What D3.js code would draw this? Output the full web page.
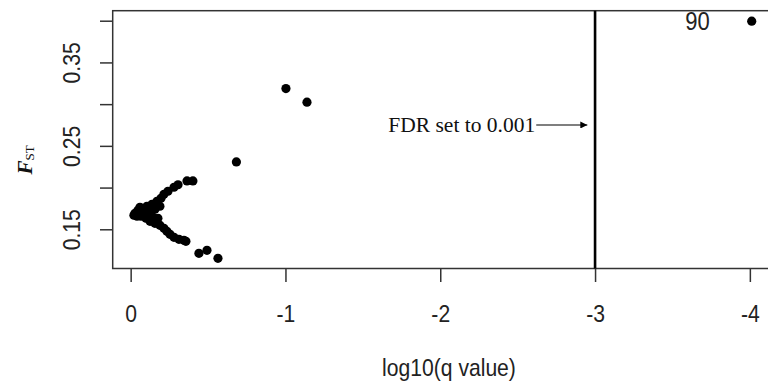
<!DOCTYPE html>
<html>
<head>
<meta charset="utf-8">
<script src="https://cdn.jsdelivr.net/npm/d3@7"></script>
<style>
  html, body { margin: 0; padding: 0; background: #fff; }
  svg { display: block; }
</style>
</head>
<body>
<div id="chart"></div>
<script>
// log10(q value) per locus
const logQ = [
  -0.402, -0.364, -0.306, -0.280, -0.241, -0.215, -0.196, -0.170, -0.138, -0.105,
  -0.073, -0.047, -0.028, -0.021, -0.041, -0.067, -0.099, -0.125, -0.157, -0.189,
  -0.215, -0.234, -0.254, -0.280, -0.312, -0.344, -0.357, -0.441, -0.493, -0.564,
  -0.683, -1.003, -1.139, -4.012,
  -0.060, -0.092, -0.125, -0.079, -0.138, -0.176, -0.157, -0.189
];
// Fst per locus
const fst = [
  0.208, 0.208, 0.2034, 0.2004, 0.1956, 0.1920, 0.1872, 0.1836, 0.1800, 0.1776,
  0.1752, 0.1728, 0.1692, 0.1668, 0.1656, 0.1656, 0.1632, 0.1596, 0.1572, 0.1548,
  0.1512, 0.1476, 0.1440, 0.1404, 0.1380, 0.1368, 0.1356, 0.1212, 0.1248, 0.1152,
  0.2307, 0.3187, 0.3023, 0.3994,
  0.1764, 0.1728, 0.1704, 0.1692, 0.1656, 0.1632, 0.1740, 0.1776
];
// locus labels (only the outlier is named)
const locusLabels = ["90"];
const labelledIndex = [33];

const xTicks = [0, -1, -2, -3, -4];
const xTickLabels = ["0", "-1", "-2", "-3", "-4"];
const yTicks = [0.15, 0.20, 0.25, 0.30, 0.35, 0.40];
const yTickLabels = ["0.15", "", "0.25", "", "0.35", ""];

const fdrCut = -3;
const fdrText = "FDR set to 0.001";
const arrowFrom = [-2.62, 0.275];
const arrowTo = [-2.95, 0.275];

const width = 768, height = 381;
const mLeft = 112.7, mTop = 10.7, mBottom = 268.5;

const x = d3.scaleLinear().domain([0.116, -4.15]).range([mLeft, mLeft + 4.266 * 154.8]);
const y = d3.scaleLinear().domain([0.103, 0.412]).range([mBottom, mTop]);

const svg = d3.select("#chart").append("svg")
  .attr("width", width)
  .attr("height", height);

const ink = "#333";
const font = "'Liberation Sans', Arial, sans-serif";
const squeeze = "scale(0.88,1)";   // the original text is narrow and tall

// plot box
svg.append("rect")
  .attr("x", x.range()[0])
  .attr("y", mTop)
  .attr("width", x.range()[1] - x.range()[0])
  .attr("height", mBottom - mTop)
  .attr("fill", "none")
  .attr("stroke", ink)
  .attr("stroke-width", 1.5);

// x axis
const xAxis = svg.append("g")
  .attr("transform", `translate(0,${mBottom})`)
  .call(d3.axisBottom(x).tickValues(xTicks)
    .tickFormat((d, i) => xTickLabels[i])
    .tickSize(13.5).tickSizeOuter(0).tickPadding(23));
xAxis.select(".domain").remove();
xAxis.selectAll("line").attr("stroke", ink).attr("stroke-width", 1.5);
xAxis.selectAll("text")
  .attr("transform", squeeze)
  .attr("font-family", font).attr("font-size", 24).attr("fill", "#222");

// y axis
const yAxis = svg.append("g")
  .attr("transform", `translate(${mLeft},0)`)
  .call(d3.axisLeft(y).tickValues(yTicks)
    .tickFormat((d, i) => yTickLabels[i])
    .tickSize(12.7).tickSizeOuter(0));
yAxis.select(".domain").remove();
yAxis.selectAll("line").attr("stroke", ink).attr("stroke-width", 1.5);
yAxis.selectAll("text")
  .attr("x", null).attr("dy", null)
  .attr("transform", "translate(-32.7,0) rotate(-90) " + squeeze)
  .attr("text-anchor", "middle")
  .attr("font-family", font).attr("font-size", 24).attr("fill", "#222");

// FDR threshold line
svg.append("line")
  .attr("x1", x(fdrCut)).attr("x2", x(fdrCut))
  .attr("y1", mTop).attr("y2", mBottom)
  .attr("stroke", "#000")
  .attr("stroke-width", 2.6);

// annotation
svg.append("defs").append("marker")
  .attr("id", "head")
  .attr("viewBox", "0 0 10 10")
  .attr("refX", 10).attr("refY", 5)
  .attr("markerWidth", 9).attr("markerHeight", 7)
  .attr("markerUnits", "userSpaceOnUse")
  .attr("orient", "auto")
  .append("path")
  .attr("d", "M0,0L10,5L0,10z")
  .attr("fill", "#000");

svg.append("line")
  .attr("x1", x(arrowFrom[0])).attr("y1", y(arrowFrom[1]))
  .attr("x2", x(arrowTo[0])).attr("y2", y(arrowTo[1]))
  .attr("stroke", "#000")
  .attr("stroke-width", 1.2)
  .attr("marker-end", "url(#head)");

svg.append("text")
  .attr("x", x(arrowFrom[0]) - 1)
  .attr("y", y(arrowFrom[1]) + 7)
  .attr("text-anchor", "end")
  .attr("font-family", "'Liberation Serif', 'Times New Roman', serif")
  .attr("font-size", 21.5)
  .attr("fill", "#111")
  .text(fdrText);

// points
svg.selectAll(".pt")
  .data(logQ.map((q, i) => ({ q, f: fst[i] })))
  .enter()
  .append("circle")
  .attr("class", "pt")
  .attr("cx", d => x(d.q))
  .attr("cy", d => y(d.f))
  .attr("r", 4.6)
  .attr("fill", "#000");

// outlier label
svg.selectAll(".lab")
  .data(labelledIndex)
  .enter()
  .append("text")
  .attr("class", "lab")
  .attr("transform", i => `translate(${x(logQ[i]) - 42},${y(fst[i])}) ${squeeze}`)
  .attr("dy", "0.36em")
  .attr("text-anchor", "end")
  .attr("font-family", font)
  .attr("font-size", 25)
  .attr("fill", "#222")
  .text((d, k) => locusLabels[k]);

// axis titles
svg.append("text")
  .attr("transform", `translate(449,376) ${squeeze}`)
  .attr("text-anchor", "middle")
  .attr("font-family", font)
  .attr("font-size", 24)
  .attr("fill", "#222")
  .text("log10(q value)");

const yTitle = svg.append("text")
  .attr("transform", "translate(32,160) rotate(-90)")
  .attr("text-anchor", "middle")
  .attr("font-family", "'Liberation Serif', 'Times New Roman', serif")
  .attr("fill", "#111");
yTitle.append("tspan")
  .attr("font-style", "italic")
  .attr("font-weight", "bold")
  .attr("font-size", 21)
  .text("F");
yTitle.append("tspan")
  .attr("font-size", 13)
  .attr("dy", 2)
  .text("ST");
</script>
</body>
</html>
